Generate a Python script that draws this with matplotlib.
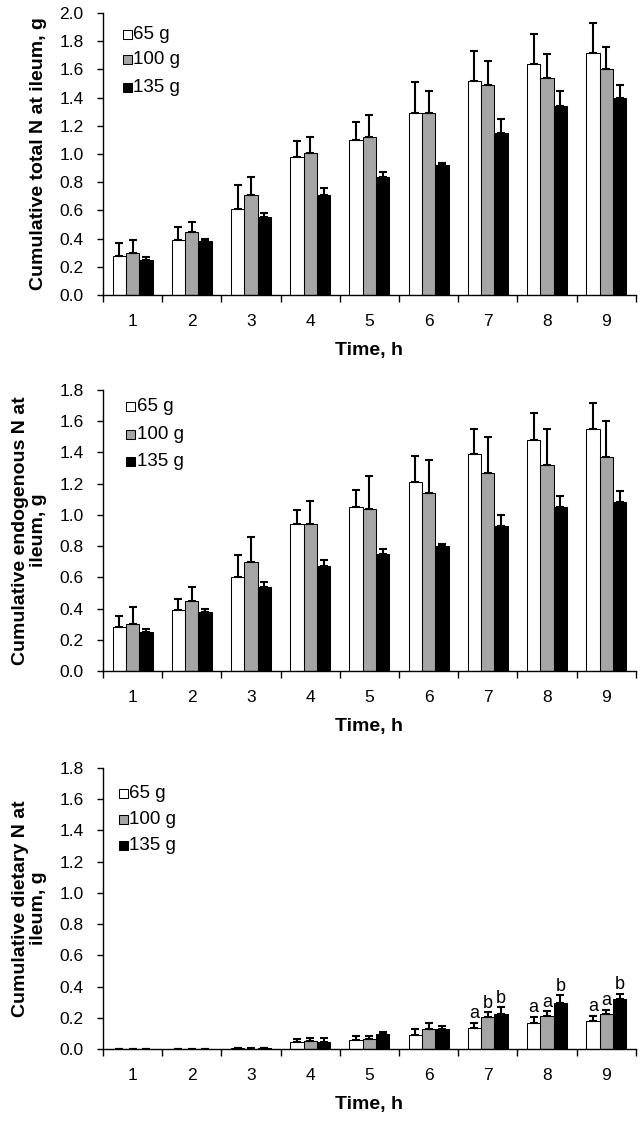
import numpy as np
import matplotlib.pyplot as plt

hours = [1, 2, 3, 4, 5, 6, 7, 8, 9]
groups = ['65 g', '100 g', '135 g']

# cumulative total N at ileum (mean, upper error)
total_65 = [0.28, 0.39, 0.61, 0.98, 1.10, 1.29, 1.52, 1.64, 1.72]
total_100 = [0.30, 0.45, 0.71, 1.01, 1.12, 1.29, 1.49, 1.54, 1.60]
total_135 = [0.25, 0.38, 0.55, 0.71, 0.84, 0.92, 1.15, 1.34, 1.40]
total_err_65 = [0.09, 0.09, 0.17, 0.11, 0.13, 0.22, 0.21, 0.21, 0.21]
total_err_100 = [0.09, 0.07, 0.13, 0.11, 0.16, 0.16, 0.17, 0.17, 0.16]
total_err_135 = [0.02, 0.02, 0.03, 0.05, 0.03, 0.015, 0.10, 0.11, 0.09]

# cumulative endogenous N
endo_65 = [0.28, 0.39, 0.60, 0.94, 1.05, 1.21, 1.39, 1.48, 1.55]
endo_100 = [0.30, 0.45, 0.70, 0.94, 1.04, 1.14, 1.27, 1.32, 1.37]
endo_135 = [0.25, 0.38, 0.54, 0.67, 0.75, 0.80, 0.93, 1.05, 1.08]
endo_err_65 = [0.07, 0.07, 0.14, 0.09, 0.11, 0.17, 0.16, 0.17, 0.17]
endo_err_100 = [0.11, 0.09, 0.16, 0.15, 0.21, 0.21, 0.23, 0.23, 0.23]
endo_err_135 = [0.02, 0.02, 0.03, 0.04, 0.03, 0.015, 0.07, 0.07, 0.07]

# cumulative dietary N
diet_65 = [0.0, 0.0, 0.004, 0.044, 0.059, 0.091, 0.136, 0.169, 0.180]
diet_100 = [0.0, 0.0, 0.003, 0.050, 0.064, 0.131, 0.205, 0.212, 0.222]
diet_135 = [0.0, 0.002, 0.005, 0.048, 0.093, 0.127, 0.222, 0.296, 0.322]
diet_err_65 = [0.0, 0.0, 0.003, 0.020, 0.024, 0.034, 0.033, 0.039, 0.034]
diet_err_100 = [0.0, 0.0, 0.003, 0.022, 0.019, 0.034, 0.030, 0.029, 0.030]
diet_err_135 = [0.0, 0.001, 0.003, 0.020, 0.017, 0.023, 0.047, 0.047, 0.032]
diet_letters_65 = ['', '', '', '', '', '', 'a', 'a', 'a']
diet_letters_100 = ['', '', '', '', '', '', 'b', 'a', 'a']
diet_letters_135 = ['', '', '', '', '', '', 'b', 'b', 'b']

plt.rcParams['font.family'] = ['Liberation Sans', 'DejaVu Sans']
colors = ['white', '#a5a5a5', 'black']
w = 0.225

fig = plt.figure(figsize=(6.42, 11.23), dpi=100)


def panel(rect, means, errs, ymax, ylabel, leg_x, leg_y, letters=None):
    ax = fig.add_axes(rect)
    x = np.array(hours)
    for i in range(3):
        xi = x + (i - 1) * w
        ax.bar(xi, means[i], width=w, color=colors[i], edgecolor='black', linewidth=0.75, zorder=2)
        ax.errorbar(xi, means[i], yerr=[np.zeros(9), errs[i]], fmt='none', ecolor='black',
                    elinewidth=1.5, capsize=3, capthick=1.5, zorder=3)
        if letters is not None:
            for xx, m, e, t in zip(xi, means[i], errs[i], letters[i]):
                if t:
                    ax.text(xx, m + e + 0.003, t, ha='center', va='bottom', fontsize=13)
    ax.set_xlim(0.5, 9.5)
    ax.set_ylim(0, ymax)
    yt = np.arange(0, ymax + 0.01, 0.2)
    ax.set_yticks(yt)
    ax.set_yticklabels(['%.1f' % v for v in yt], fontsize=12.5)
    ax.set_xticks(x)
    ax.set_xticklabels([str(h) for h in hours], fontsize=12.5)
    ax.tick_params(axis='x', length=0, pad=14)
    ax.set_xticks(np.arange(0.5, 9.6, 1), minor=True)
    ax.tick_params(axis='x', which='minor', length=5, width=1, direction='out')
    ax.tick_params(axis='y', length=4, width=1, direction='out', pad=10)
    for s in ['top', 'right']:
        ax.spines[s].set_visible(False)
    ax.spines['left'].set_linewidth(1)
    ax.spines['bottom'].set_linewidth(1)
    ax.set_xlabel('Time, h', fontsize=14, fontweight='bold', labelpad=9)
    ax.set_ylabel(ylabel, fontsize=14, fontweight='bold', labelpad=9, linespacing=1.05)
    # legend drawn by hand: small squares with black edge
    hh = ymax * 9 / 282
    for i, g in enumerate(groups):
        ax.bar(leg_x, hh, bottom=leg_y[i] - hh / 2, width=0.15, color=colors[i],
               edgecolor='black', linewidth=0.75)
        ax.text(leg_x + 0.1, leg_y[i], g, va='center', ha='left', fontsize=13.5)
    return ax


panel([0.1604, 0.7373, 0.830, 0.2511], [total_65, total_100, total_135],
      [total_err_65, total_err_100, total_err_135], 2.0,
      'Cumulative total N at ileum, g', 0.915, [1.85, 1.667, 1.475])
panel([0.1604, 0.4025, 0.830, 0.2502], [endo_65, endo_100, endo_135],
      [endo_err_65, endo_err_100, endo_err_135], 1.8,
      'Cumulative endogenous N at\nileum, g', 0.97, [1.693, 1.514, 1.342])
panel([0.1604, 0.0659, 0.830, 0.2502], [diet_65, diet_100, diet_135],
      [diet_err_65, diet_err_100, diet_err_135], 1.8,
      'Cumulative dietary N at\nileum, g', 0.84, [1.635, 1.468, 1.301],
      letters=[diet_letters_65, diet_letters_100, diet_letters_135])

fig.savefig('out.png', dpi=100)
